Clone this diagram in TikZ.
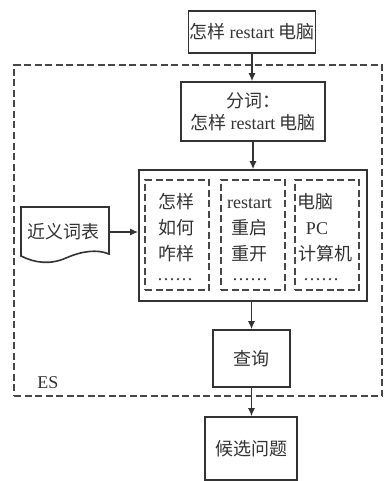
\documentclass[tikz,border=0pt]{standalone}
\usepackage{fontspec}
\setmainfont{Liberation Serif}
\newfontfamily\cjk{Noto Sans CJK SC}
\newcommand\zh[1]{{\cjk #1}}
\usetikzlibrary{arrows.meta}
\definecolor{ink}{HTML}{333333}
\begin{document}
\begin{tikzpicture}[x=1pt,y=-1pt,
  font=\fontsize{18}{22}\selectfont, text=ink,
  solidbox/.style={draw=ink, line width=1.6pt, inner sep=0pt, align=center},
  dashbox/.style={draw=ink!90, line width=1.6pt, dash pattern=on 7pt off 3.5pt, inner sep=0pt},
  arr/.style={draw=ink, line width=1.4pt, -{Latex[length=8pt,width=7pt]}},
  item/.style={anchor=base, inner sep=0pt}]
\useasboundingbox (0,0) rectangle (389,481);

% outer ES region
\node[dashbox, minimum width=368pt, minimum height=331pt] (es) at (198,230.5) {};
\node[anchor=base, inner sep=0pt] (eslabel) at (48,388) {ES};

\node[solidbox, minimum width=127pt, minimum height=42pt] (top) at (252,32)
  {\zh{怎样} restart \zh{电脑}};
\node[solidbox, minimum width=144pt, minimum height=59pt] (seg) at (253,111.5)
  {\zh{分词：}\\\zh{怎样} restart \zh{电脑}};
\node[solidbox, minimum width=228pt, minimum height=131pt] (big) at (253,235.5) {};

\node[dashbox, minimum width=64pt, minimum height=110pt] (c1) at (177,235) {};
\node[dashbox, minimum width=64pt, minimum height=110pt] (c2) at (253,235) {};
\node[dashbox, minimum width=64pt, minimum height=110pt] (c3) at (327,235) {};

% column 1
\node[item] (a1) at (176,208.5) {\zh{怎样}};
\node[item] (a2) at (176,234.5) {\zh{如何}};
\node[item] (a3) at (176,260) {\zh{咋样}};
\node[item] (a4) at (175,280) {……};
% column 2
\node[item] (b1) at (249.5,208.5) {restart};
\node[item] (b2) at (249.5,234.5) {\zh{重启}};
\node[item] (b3) at (249.5,260) {\zh{重开}};
\node[item] (b4) at (250,280) {……};
% column 3
\node[item] (d1) at (315.5,208.5) {\zh{电脑}};
\node[item] (d2) at (317,234.5) {PC};
\node[item] (d3) at (325,260) {\zh{计算机}};
\node[item] (d4) at (321,280) {……};

% synonym table (document shape)
\draw[draw=ink, line width=1.6pt] (21,207) -- (109,207) -- (109,254)
  .. controls (97,249) and (82,251) .. (66,258)
  .. controls (50,265) and (35,263) .. (21,256) -- cycle;
\node[inner sep=0pt] (syn) at (63,232) {\zh{近义词表}};
\coordinate (synR) at (109,232);

\node[solidbox, minimum width=77pt, minimum height=57pt] (query) at (251.5,358.5) {\zh{查询}};
\node[solidbox, minimum width=92pt, minimum height=63pt] (cand) at (251,448.5) {\zh{候选问题}};

\draw[arr] (top.south) -- (top.south |- seg.north);
\draw[arr] (seg.south) -- (seg.south |- big.north);
\draw[arr] (synR) -- (synR -| big.west);
\draw[arr] (big.south -| query.north) -- (query.north);
\draw[arr] (query.south) -- (query.south |- cand.north);
\end{tikzpicture}
\end{document}
